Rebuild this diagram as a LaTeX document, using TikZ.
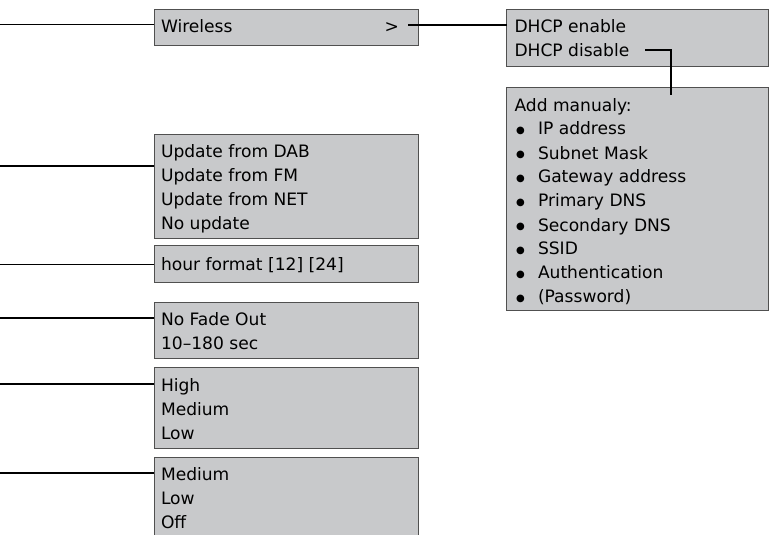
\documentclass[tikz,border=0pt]{standalone}
\usepackage{fontspec}
\setmainfont{DejaVu Sans}
\usetikzlibrary{calc}
\definecolor{boxfill}{HTML}{C8C9CB}
\definecolor{boxline}{HTML}{505050}
\newcommand\mylines[1]{\begin{tabular}[t]{@{}l@{}}#1\end{tabular}}
\newcommand\myitem[1]{\makebox[23.5pt][l]{\hspace{1.5pt}\raisebox{1.6pt}{\fontsize{10}{10}\selectfont ●}}#1}
\begin{document}
\begin{tikzpicture}[x=1pt,y=-1pt,
  box/.style={draw=boxline, line width=1pt, fill=boxfill, anchor=north west, inner sep=0pt, outer sep=0pt},
  txt/.style={anchor=base west, inner sep=0pt, outer sep=0pt, font=\fontsize{17.1}{24}\selectfont},
  conn/.style={draw=black, line width=1.5pt}]
\useasboundingbox (0,0) rectangle (769,535);
% boxes
\node[box, minimum width=264pt, minimum height=36.7pt] (wire) at (154,9.3) {};
\node[box, minimum width=264pt, minimum height=103.3pt] (upd) at (154,134.7) {};
\node[box, minimum width=264pt, minimum height=36.6pt] (hour) at (154,245.7) {};
\node[box, minimum width=264pt, minimum height=56.7pt] (fade) at (154,302) {};
\node[box, minimum width=264pt, minimum height=80.3pt] (high) at (154,367.7) {};
\node[box, minimum width=264pt, minimum height=90pt] (med) at (154,457.3) {};
\node[box, minimum width=261.6pt, minimum height=57.4pt] (dhcp) at (506.7,9.3) {};
\node[box, minimum width=261.6pt, minimum height=222.7pt] (add) at (506.7,87.3) {};
% texts
\node[txt] (wiret) at (161,33) {Wireless};
\node[txt] (gt) at (384.5,33) {>};
\node[txt] (updt) at (161,157.3) {\mylines{Update from DAB\\Update from FM\\Update from NET\\No update}};
\node[txt] (hourt) at (161,270.5) {hour format [12] [24]};
\node[txt] (fadet) at (161,325) {\mylines{No Fade Out\\10–180 sec}};
\node[txt] (hight) at (161,391) {\mylines{High\\Medium\\Low}};
\node[txt] (medt) at (161,480.7) {\mylines{Medium\\Low\\Off}};
\node[txt] (dhcpt) at (514.5,32.5) {\mylines{DHCP enable\\DHCP disable}};
\node[txt] (addt) at (514.5,111) {\mylines{Add manualy:\\
  \myitem{IP address}\\\myitem{Subnet Mask}\\\myitem{Gateway address}\\
  \myitem{Primary DNS}\\\myitem{Secondary DNS}\\\myitem{SSID}\\
  \myitem{Authentication}\\\myitem{(Password)}}};
% connectors
\coordinate (wireL) at (0,24.75);
\coordinate (updL) at (0,165.75);
\coordinate (hourL) at (0,264.25);
\coordinate (fadeL) at (0,317.75);
\coordinate (highL) at (0,383.75);
\coordinate (medL) at (0,472.75);
\coordinate (wireR) at (408,25.25);
\coordinate (disR) at (645,50.25);
\coordinate (addIn) at (671,95);
\draw[conn] (wireL) -- (wireL -| wire.west);
\draw[conn] (updL) -- (updL -| upd.west);
\draw[conn] (hourL) -- (hourL -| hour.west);
\draw[conn] (fadeL) -- (fadeL -| fade.west);
\draw[conn] (highL) -- (highL -| high.west);
\draw[conn] (medL) -- (medL -| med.west);
\draw[conn] (wireR) -- (wireR -| dhcp.west);
\draw[conn] (disR) -| (addIn);
\end{tikzpicture}
\end{document}
